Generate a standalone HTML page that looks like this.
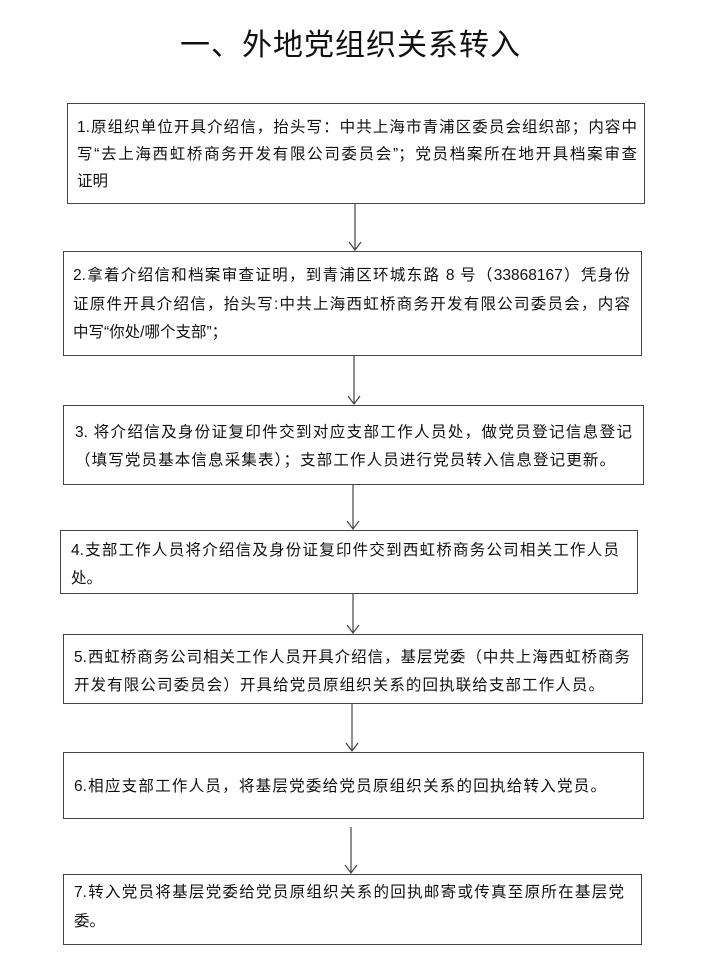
<!DOCTYPE html>
<html><head><meta charset="utf-8"><style>
body{margin:0;width:701px;height:980px;background:#fff;position:relative;font-family:"Liberation Sans","Noto Sans CJK SC",sans-serif;color:#111;overflow:hidden}
.t{position:absolute;left:0;width:701px;top:26px;text-align:center;font-size:30px;letter-spacing:1px;line-height:40px}
.b{position:absolute;border:1.5px solid #444;box-sizing:border-box}
.l{position:absolute;font-size:15.5px;white-space:nowrap;line-height:20px}
.j{text-align:justify;text-align-last:justify}
svg{position:absolute;left:0;top:0}
</style></head><body>
<div class="t">一、外地党组织关系转入</div>
<div class="b" style="left:67px;top:103px;width:578px;height:101px"></div>
<div class="l j" style="left:77px;top:118px;width:560px">1.原组织单位开具介绍信，抬头写：中共上海市青浦区委员会组织部；内容中</div>
<div class="l j" style="left:77px;top:145px;width:560px">写“去上海西虹桥商务开发有限公司委员会”；党员档案所在地开具档案审查</div>
<div class="l" style="left:77px;top:172px">证明</div>

<div class="b" style="left:63px;top:251px;width:579px;height:105px"></div>
<div class="l j" style="left:73px;top:266px;width:557px">2.拿着介绍信和档案审查证明，到青浦区环城东路 8 号（33868167）凭身份</div>
<div class="l j" style="left:73px;top:295px;width:557px">证原件开具介绍信，抬头写:中共上海西虹桥商务开发有限公司委员会，内容</div>
<div class="l" style="left:73px;top:323px">中写“你处/哪个支部”；</div>

<div class="b" style="left:63px;top:405px;width:581px;height:80px"></div>
<div class="l j" style="left:75px;top:423px;width:557px">3. 将介绍信及身份证复印件交到对应支部工作人员处，做党员登记信息登记</div>
<div class="l j" style="left:75px;top:451px;width:540px">（填写党员基本信息采集表）；支部工作人员进行党员转入信息登记更新。</div>

<div class="b" style="left:60px;top:530px;width:578px;height:64px"></div>
<div class="l j" style="left:71px;top:541px;width:548px">4.支部工作人员将介绍信及身份证复印件交到西虹桥商务公司相关工作人员</div>
<div class="l" style="left:71px;top:569px">处。</div>

<div class="b" style="left:63px;top:634px;width:580px;height:70px"></div>
<div class="l j" style="left:74px;top:648px;width:556px">5.西虹桥商务公司相关工作人员开具介绍信，基层党委（中共上海西虹桥商务</div>
<div class="l j" style="left:74px;top:676px;width:530px">开发有限公司委员会）开具给党员原组织关系的回执联给支部工作人员。</div>

<div class="b" style="left:63px;top:752px;width:581px;height:67px"></div>
<div class="l j" style="left:74px;top:777px;width:532px">6.相应支部工作人员，将基层党委给党员原组织关系的回执给转入党员。</div>

<div class="b" style="left:63px;top:874px;width:579px;height:71px"></div>
<div class="l j" style="left:74px;top:883px;width:550px">7.转入党员将基层党委给党员原组织关系的回执邮寄或传真至原所在基层党</div>
<div class="l" style="left:74px;top:912px">委。</div>

<svg width="701" height="980" fill="none" stroke="#444" stroke-width="1.2">
<path d="M355 204V250M349 242L355 250L361 242"/>
<path d="M354 356V404M348 396L354 404L360 396"/>
<path d="M353 485V529M347 521L353 529L359 521"/>
<path d="M353 594V633M347 625L353 633L359 625"/>
<path d="M352 704V751M346 743L352 751L358 743"/>
<path d="M351 827V873M345 865L351 873L357 865"/>
</svg>
</body></html>
